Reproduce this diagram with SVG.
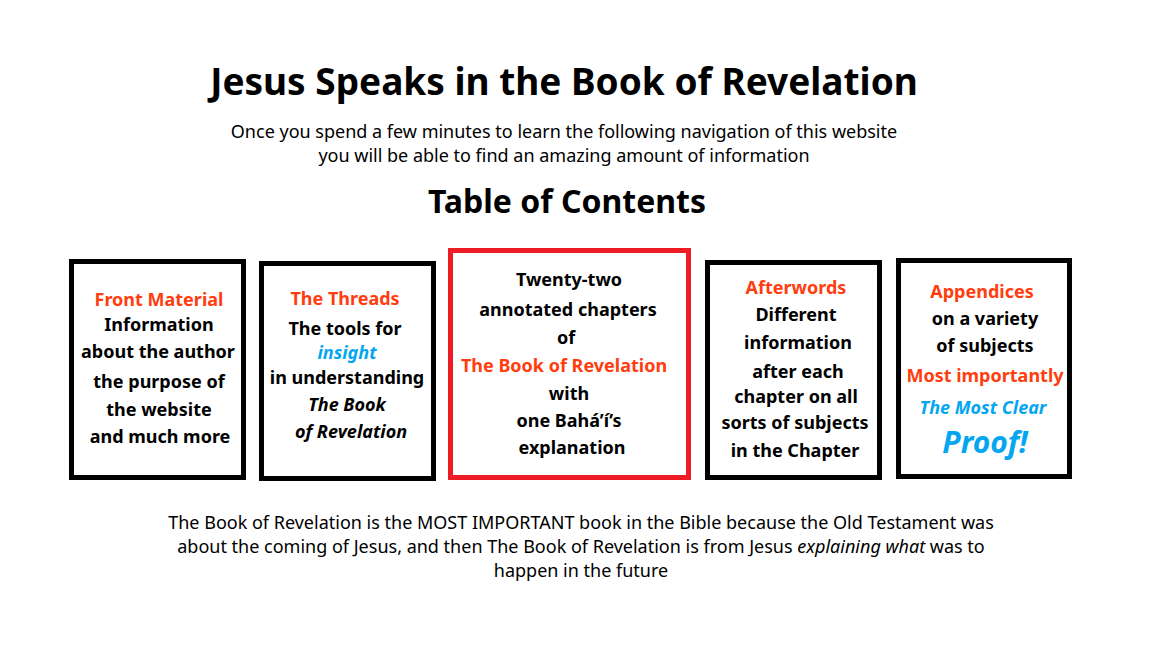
<svg xmlns="http://www.w3.org/2000/svg" width="1152" height="648" viewBox="0 0 1152 648">
<style>
text{font-family:"Noto Sans","Open Sans",sans-serif;text-anchor:middle;fill:#000}
.t{font-size:37px;font-weight:bold}
.h{font-size:32px;font-weight:bold}
.p{font-size:18px}
.b{font-size:18px;font-weight:bold}
.o{fill:#ff3d0f}
.c{fill:#05a6f0;font-style:italic}
.i{font-style:italic}
.box{fill:#fff;stroke:#000;stroke-width:5}
.red{fill:#fff;stroke:#ee1c25;stroke-width:5}
</style>
<rect width="1152" height="648" fill="#fff"/>
<text class="t" x="564" y="95">Jesus Speaks in the Book of Revelation</text>
<text class="p" x="564" y="138">Once you spend a few minutes to learn the following navigation of this website</text>
<text class="p" x="564" y="162">you will be able to find an amazing amount of information</text>
<text class="h" x="567" y="213">Table of Contents</text>
<g id="front">
<rect class="box" x="71.500" y="261.500" width="172" height="216"/>
<text class="b o" x="159" y="306">Front Material</text>
<text class="b" x="159" y="331">Information</text>
<text class="b" x="158" y="358">about the author</text>
<text class="b" x="159" y="388">the purpose of</text>
<text class="b" x="159" y="416">the website</text>
<text class="b" x="160" y="443">and much more</text>
</g>
<g id="threads">
<rect class="box" x="261.500" y="263.500" width="172" height="215"/>
<text class="b o" x="345" y="305">The Threads</text>
<text class="b" x="345" y="335">The tools for</text>
<text class="b c" x="347" y="359">insight</text>
<text class="b" x="347" y="384">in understanding</text>
<text class="b i" x="347" y="411">The Book</text>
<text class="b i" x="351" y="438">of Revelation</text>
</g>
<g id="chapters">
<rect class="red" x="450.500" y="250.500" width="238" height="227"/>
<text class="b" x="569" y="286">Twenty-two</text>
<text class="b" x="568" y="316">annotated chapters</text>
<text class="b" x="566" y="344">of</text>
<text class="b o" x="564" y="372">The Book of Revelation</text>
<text class="b" x="569" y="400">with</text>
<text class="b" x="569" y="427">one Bahá’í’s</text>
<text class="b" x="572" y="454">explanation</text>
</g>
<g id="afterwords">
<rect class="box" x="707.500" y="262.500" width="172" height="215"/>
<text class="b o" x="796" y="294">Afterwords</text>
<text class="b" x="796" y="321">Different</text>
<text class="b" x="798" y="349">information</text>
<text class="b" x="798" y="378">after each</text>
<text class="b" x="796" y="403">chapter on all</text>
<text class="b" x="795" y="429">sorts of subjects</text>
<text class="b" x="795" y="457">in the Chapter</text>
</g>
<g id="appendices">
<rect class="box" x="898.500" y="260.500" width="171" height="216"/>
<text class="b o" x="982" y="298">Appendices</text>
<text class="b" x="985" y="325">on a variety</text>
<text class="b" x="985" y="352">of subjects</text>
<text class="b o" x="985" y="382">Most importantly</text>
<text class="b c" x="983" y="414">The Most Clear</text>
<text class="c" x="985" y="453" style="font-size:30px;font-weight:bold">Proof!</text>
</g>
<text class="p" x="581" y="529">The Book of Revelation is the MOST IMPORTANT book in the Bible because the Old Testament was</text>
<text class="p" x="581" y="553">about the coming of Jesus, and then The Book of Revelation is from Jesus <tspan class="i">explaining what</tspan> was to</text>
<text class="p" x="581" y="577">happen in the future</text>
</svg>
